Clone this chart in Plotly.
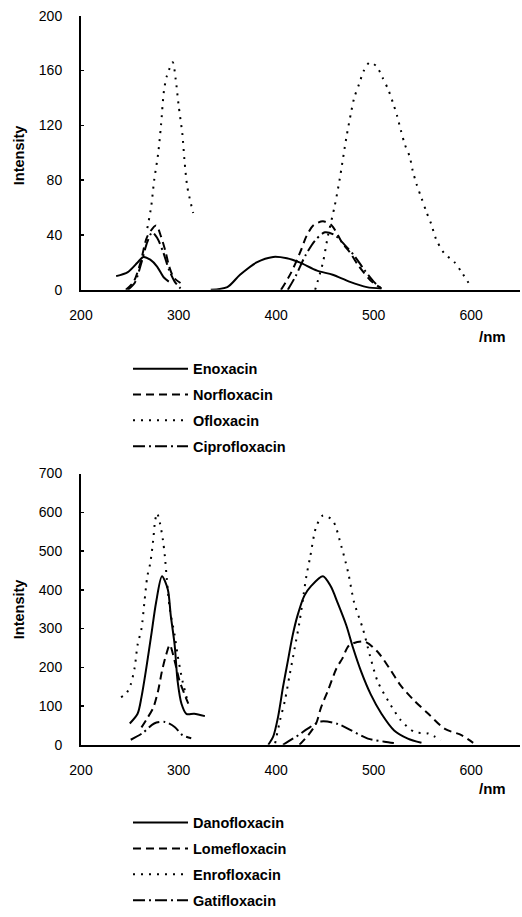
import plotly.graph_objects as go

# ---------------- data ----------------
# Top panel
enoxacin_ex_x = [236, 248, 258, 264, 271, 278, 285, 290]
enoxacin_ex_y = [10, 13, 20, 24, 22, 17, 9, 6]
enoxacin_em_x = [333, 350, 363, 380, 397, 411, 424, 442, 458, 475, 493, 508]
enoxacin_em_y = [0, 2, 11, 20, 24, 23, 20, 14, 11, 6, 2, 1]

norfloxacin_ex_x = [246, 254, 261, 268, 277, 282, 287, 290, 295, 302]
norfloxacin_ex_y = [0, 6, 20, 39, 47, 39, 27, 18, 9, 5]
norfloxacin_em_x = [405, 415, 425, 431, 438, 448, 457, 468, 476, 484, 498, 508]
norfloxacin_em_y = [0, 12, 28, 39, 47, 50, 47, 34, 27, 18, 6, 1]

ofloxacin_ex_x = [268, 272, 275, 279, 282, 285, 288, 294, 297, 300, 304, 306, 309, 315]
ofloxacin_ex_y = [45, 61, 80, 99, 120, 145, 156, 166, 154, 135, 113, 95, 75, 56]
ofloxacin_em_x = [440, 448, 453, 460, 465, 472, 477, 480, 485, 490, 496, 503, 509, 515,
                  520, 524, 528, 532, 537, 540, 544, 549, 554, 559, 564, 572, 583, 591, 600]
ofloxacin_em_y = [0, 20, 39, 61, 80, 111, 130, 140, 150, 160, 166, 163, 155, 146,
                  136, 127, 116, 106, 97, 87, 77, 67, 57, 48, 37, 27, 20, 12, 2]

ciprofloxacin_ex_x = [248, 255, 262, 268, 273, 278, 284, 290, 296, 302]
ciprofloxacin_ex_y = [0, 5, 20, 35, 42, 38, 28, 15, 6, 1]
ciprofloxacin_em_x = [412, 420, 430, 440, 450, 460, 470, 480, 490, 500, 508]
ciprofloxacin_em_y = [0, 10, 25, 36, 42, 40, 33, 25, 15, 6, 1]

# Bottom panel
danofloxacin_ex_x = [250, 258, 262, 267, 272, 277, 283, 289, 292, 296, 299, 303, 308, 316, 327]
danofloxacin_ex_y = [55, 80, 123, 199, 283, 368, 435, 401, 334, 258, 165, 106, 80, 80, 74]
danofloxacin_em_x = [392, 397, 402, 407, 412, 417, 422, 429, 436, 448, 456, 463, 472, 479,
                     487, 497, 508, 521, 535, 549]
danofloxacin_em_y = [0, 21, 72, 148, 216, 283, 334, 385, 410, 435, 409, 367, 308, 249,
                     190, 130, 80, 37, 16, 5]

lomefloxacin_ex_x = [262, 267, 274, 279, 283, 287, 291, 296, 301, 306, 310]
lomefloxacin_ex_y = [45, 65, 95, 139, 190, 230, 258, 216, 165, 131, 106]
lomefloxacin_em_x = [424, 433, 441, 446, 453, 462, 468, 475, 491, 504, 516, 528, 542, 556,
                     573, 590, 602]
lomefloxacin_em_y = [0, 25, 55, 96, 139, 198, 223, 257, 266, 240, 198, 152, 113, 80,
                     41, 25, 5]

enrofloxacin_ex_x = [241, 246, 251, 255, 258, 262, 265, 268, 271, 274, 276, 278, 281, 284,
                     286, 288, 291, 296, 299, 304, 310]
enrofloxacin_ex_y = [123, 131, 156, 199, 258, 300, 368, 435, 469, 528, 579, 598, 571, 528,
                     486, 427, 351, 283, 232, 165, 106]
enrofloxacin_em_x = [399, 404, 409, 414, 419, 424, 428, 431, 435, 441, 448, 458, 467, 474,
                     480, 489, 496, 504, 515, 528, 542, 556, 569]
enrofloxacin_em_y = [4, 63, 114, 182, 249, 317, 385, 435, 486, 562, 592, 579, 511, 443,
                     367, 299, 232, 164, 113, 63, 33, 29, 12]

gatifloxacin_ex_x = [251, 263, 275, 286, 296, 304, 313]
gatifloxacin_ex_y = [13, 30, 55, 59, 46, 25, 17]
gatifloxacin_em_x = [407, 423, 432, 446, 463, 477, 494, 511, 525]
gatifloxacin_em_y = [0, 25, 41, 60, 54, 37, 16, 8, 3]

top_names = ["Enoxacin", "Norfloxacin", "Ofloxacin", "Ciprofloxacin"]
bottom_names = ["Danofloxacin", "Lomefloxacin", "Enrofloxacin", "Gatifloxacin"]
top_yticks = [0, 40, 80, 120, 160, 200]
bottom_yticks = [0, 100, 200, 300, 400, 500, 600, 700]
x_ticks = [200, 300, 400, 500, 600]

# ---------------- figure ----------------
W, H = 522, 917
FONT = "Liberation Sans, Arial, sans-serif"
dashes = ["solid", "8px,5px", "2px,6px", "12px,4px,2px,4px"]

def join(x1, y1, x2, y2):
    return list(x1) + [None] + list(x2), list(y1) + [None] + list(y2)

top_series = [
    join(enoxacin_ex_x, enoxacin_ex_y, enoxacin_em_x, enoxacin_em_y),
    join(norfloxacin_ex_x, norfloxacin_ex_y, norfloxacin_em_x, norfloxacin_em_y),
    join(ofloxacin_ex_x, ofloxacin_ex_y, ofloxacin_em_x, ofloxacin_em_y),
    join(ciprofloxacin_ex_x, ciprofloxacin_ex_y, ciprofloxacin_em_x, ciprofloxacin_em_y),
]
bottom_series = [
    join(danofloxacin_ex_x, danofloxacin_ex_y, danofloxacin_em_x, danofloxacin_em_y),
    join(lomefloxacin_ex_x, lomefloxacin_ex_y, lomefloxacin_em_x, lomefloxacin_em_y),
    join(enrofloxacin_ex_x, enrofloxacin_ex_y, enrofloxacin_em_x, enrofloxacin_em_y),
    join(gatifloxacin_ex_x, gatifloxacin_ex_y, gatifloxacin_em_x, gatifloxacin_em_y),
]

fig = go.Figure()
for i, (name, (xs, ys)) in enumerate(zip(top_names, top_series)):
    fig.add_trace(go.Scatter(x=xs, y=ys, mode="lines", name="<b>" + name + "</b>",
                             line=dict(color="black", width=2, dash=dashes[i], shape="spline", smoothing=0.8),
                             connectgaps=False, xaxis="x", yaxis="y",
                             legend="legend", legendgroup="t%d" % i))
for i, (name, (xs, ys)) in enumerate(zip(bottom_names, bottom_series)):
    fig.add_trace(go.Scatter(x=xs, y=ys, mode="lines", name="<b>" + name + "</b>",
                             line=dict(color="black", width=2, dash=dashes[i], shape="spline", smoothing=0.8),
                             connectgaps=False, xaxis="x2", yaxis="y2",
                             legend="legend2", legendgroup="b%d" % i))

def px_x(p):
    return p / W

def px_y(p):
    return 1 - p / H

x_dom = [px_x(81), px_x(520)]
top_dom = [px_y(295), px_y(16)]
bot_dom = [px_y(758), px_y(482)]

axis_font = dict(family=FONT, size=14, color="black")
xcommon = dict(range=[200, 650], tickvals=x_ticks, showline=True, linecolor="black", linewidth=2,
               showgrid=False, zeroline=False, ticks="", tickfont=axis_font, ticklabelstandoff=11,
               domain=x_dom, automargin=False, tickprefix="<b>", ticksuffix="</b>")
ycommon = dict(showline=True, linecolor="black", linewidth=2, showgrid=False, zeroline=False,
               ticks="inside", ticklen=3, tickwidth=1.5, tickcolor="black",
               tickfont=axis_font, ticklabelstandoff=14, automargin=False,
               tickprefix="<b>", ticksuffix="</b>")

legend_common = dict(font=dict(family=FONT, size=14.5, color="black"), bgcolor="rgba(0,0,0,0)",
                     xanchor="left", yanchor="top", itemwidth=55, tracegroupgap=4,
                     itemclick=False, itemdoubleclick=False)

ann_common = dict(xref="paper", yref="paper", showarrow=False, yanchor="middle")

fig.update_layout(
    width=W, height=H,
    margin=dict(l=0, r=0, t=0, b=0),
    paper_bgcolor="white", plot_bgcolor="white",
    font=dict(family=FONT, size=14, color="black"),
    xaxis=dict(**xcommon, anchor="y"),
    yaxis=dict(**ycommon, range=[0, 200], tickvals=top_yticks, domain=top_dom, anchor="x"),
    xaxis2=dict(**xcommon, anchor="y2"),
    yaxis2=dict(**ycommon, range=[0, 700], tickvals=bottom_yticks, domain=bot_dom, anchor="x2"),
    legend=dict(**legend_common, x=px_x(128), y=px_y(359)),
    legend2=dict(**legend_common, x=px_x(128), y=px_y(821)),
    annotations=[
        dict(text="<b>Intensity</b>", textangle=-90, x=px_x(19), y=px_y(158), xanchor="center",
             font=dict(family=FONT, size=14.5), **ann_common),
        dict(text="<b>Intensity</b>", textangle=-90, x=px_x(19), y=px_y(620), xanchor="center",
             font=dict(family=FONT, size=14.5), **ann_common),
        dict(text="<b>/nm</b>", x=px_x(508), y=px_y(342), xanchor="right",
             font=dict(family=FONT, size=15), **ann_common),
        dict(text="<b>/nm</b>", x=px_x(508), y=px_y(802), xanchor="right",
             font=dict(family=FONT, size=15), **ann_common),
    ],
)

fig.write_html("out.html", config={"displayModeBar": False, "staticPlot": True},
               post_script="document.body.style.margin='0';document.body.style.overflow='hidden';")
